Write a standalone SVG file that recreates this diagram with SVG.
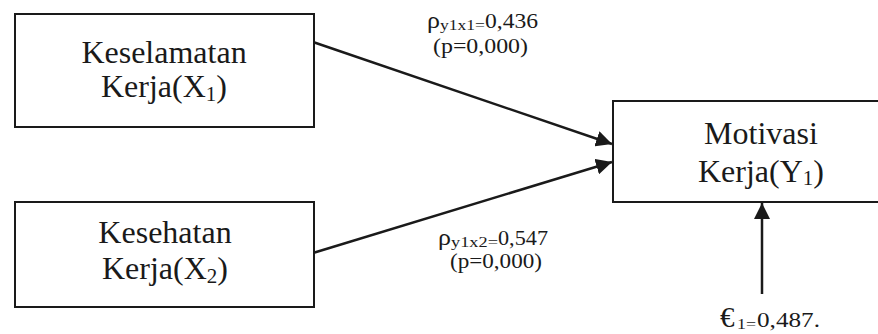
<svg xmlns="http://www.w3.org/2000/svg" width="878" height="334" viewBox="0 0 878 334">
<defs>
<style>
.box{fill:#fff;stroke:#1a1a1a;stroke-width:2}
.t{font-family:"Liberation Serif","Times New Roman",serif;fill:#1a1a1a}
.main{font-size:32px}
.lbl{font-size:21px}
.sub{font-size:15px}
.conn{stroke:#1a1a1a;stroke-width:2.5;fill:none;marker-end:url(#ah)}
</style>
<marker id="ah" markerUnits="userSpaceOnUse" markerWidth="18" markerHeight="16" refX="16" refY="8" orient="auto">
<path d="M0,0 L16,8 L0,16 Z" fill="#1a1a1a"/>
</marker>
</defs>
<rect width="878" height="334" fill="#fff"/>
<g id="connectors">
<line class="conn" x1="313" y1="42" x2="612" y2="144"/>
<line class="conn" x1="313" y1="253" x2="612" y2="162"/>
<line class="conn" x1="762" y1="294" x2="762" y2="203"/>
</g>
<g id="x1">
<rect class="box" x="15" y="14" width="299" height="113"/>
<text class="t main" x="164" y="63" text-anchor="middle">Keselamatan</text>
<text class="t main" x="164" y="97" text-anchor="middle">Kerja(X<tspan font-size="21" dy="4">1</tspan><tspan dy="-4">)</tspan></text>
</g>
<g id="x2">
<rect class="box" x="15" y="202" width="299" height="105"/>
<text class="t main" x="165" y="243" text-anchor="middle">Kesehatan</text>
<text class="t main" x="165" y="279" text-anchor="middle">Kerja(X<tspan font-size="21" dy="4">2</tspan><tspan dy="-4">)</tspan></text>
</g>
<g id="y1">
<rect class="box" x="613" y="101" width="270" height="101"/>
<text class="t main" x="761" y="144" text-anchor="middle">Motivasi</text>
<text class="t main" x="761" y="182" text-anchor="middle">Kerja(Y<tspan font-size="21" dy="3">1</tspan><tspan dy="-3">)</tspan></text>
</g>
<g id="label1">
<text class="t lbl" y="28"><tspan x="427" font-size="24" textLength="13" lengthAdjust="spacingAndGlyphs">ρ</tspan><tspan class="sub" x="440" dy="2" textLength="45" lengthAdjust="spacingAndGlyphs">y1x1=</tspan><tspan x="485" dy="-2" textLength="53" lengthAdjust="spacingAndGlyphs">0,436</tspan></text>
<text class="t lbl" x="433" y="53" textLength="95" lengthAdjust="spacingAndGlyphs">(p=0,000)</text>
</g>
<g id="label2">
<text class="t lbl" y="245"><tspan x="438" font-size="24" textLength="13" lengthAdjust="spacingAndGlyphs">ρ</tspan><tspan class="sub" x="451" dy="2" textLength="47" lengthAdjust="spacingAndGlyphs">y1x2=</tspan><tspan x="498" dy="-2" textLength="50" lengthAdjust="spacingAndGlyphs">0,547</tspan></text>
<text class="t lbl" x="450" y="268" textLength="92" lengthAdjust="spacingAndGlyphs">(p=0,000)</text>
</g>
<g id="error">
<text class="t lbl" y="327"><tspan x="720" font-size="29">€</tspan><tspan class="sub" x="737" dy="2" textLength="19" lengthAdjust="spacingAndGlyphs">1=</tspan><tspan x="757" dy="-2" textLength="63" lengthAdjust="spacingAndGlyphs">0,487.</tspan></text>
</g>
</svg>
